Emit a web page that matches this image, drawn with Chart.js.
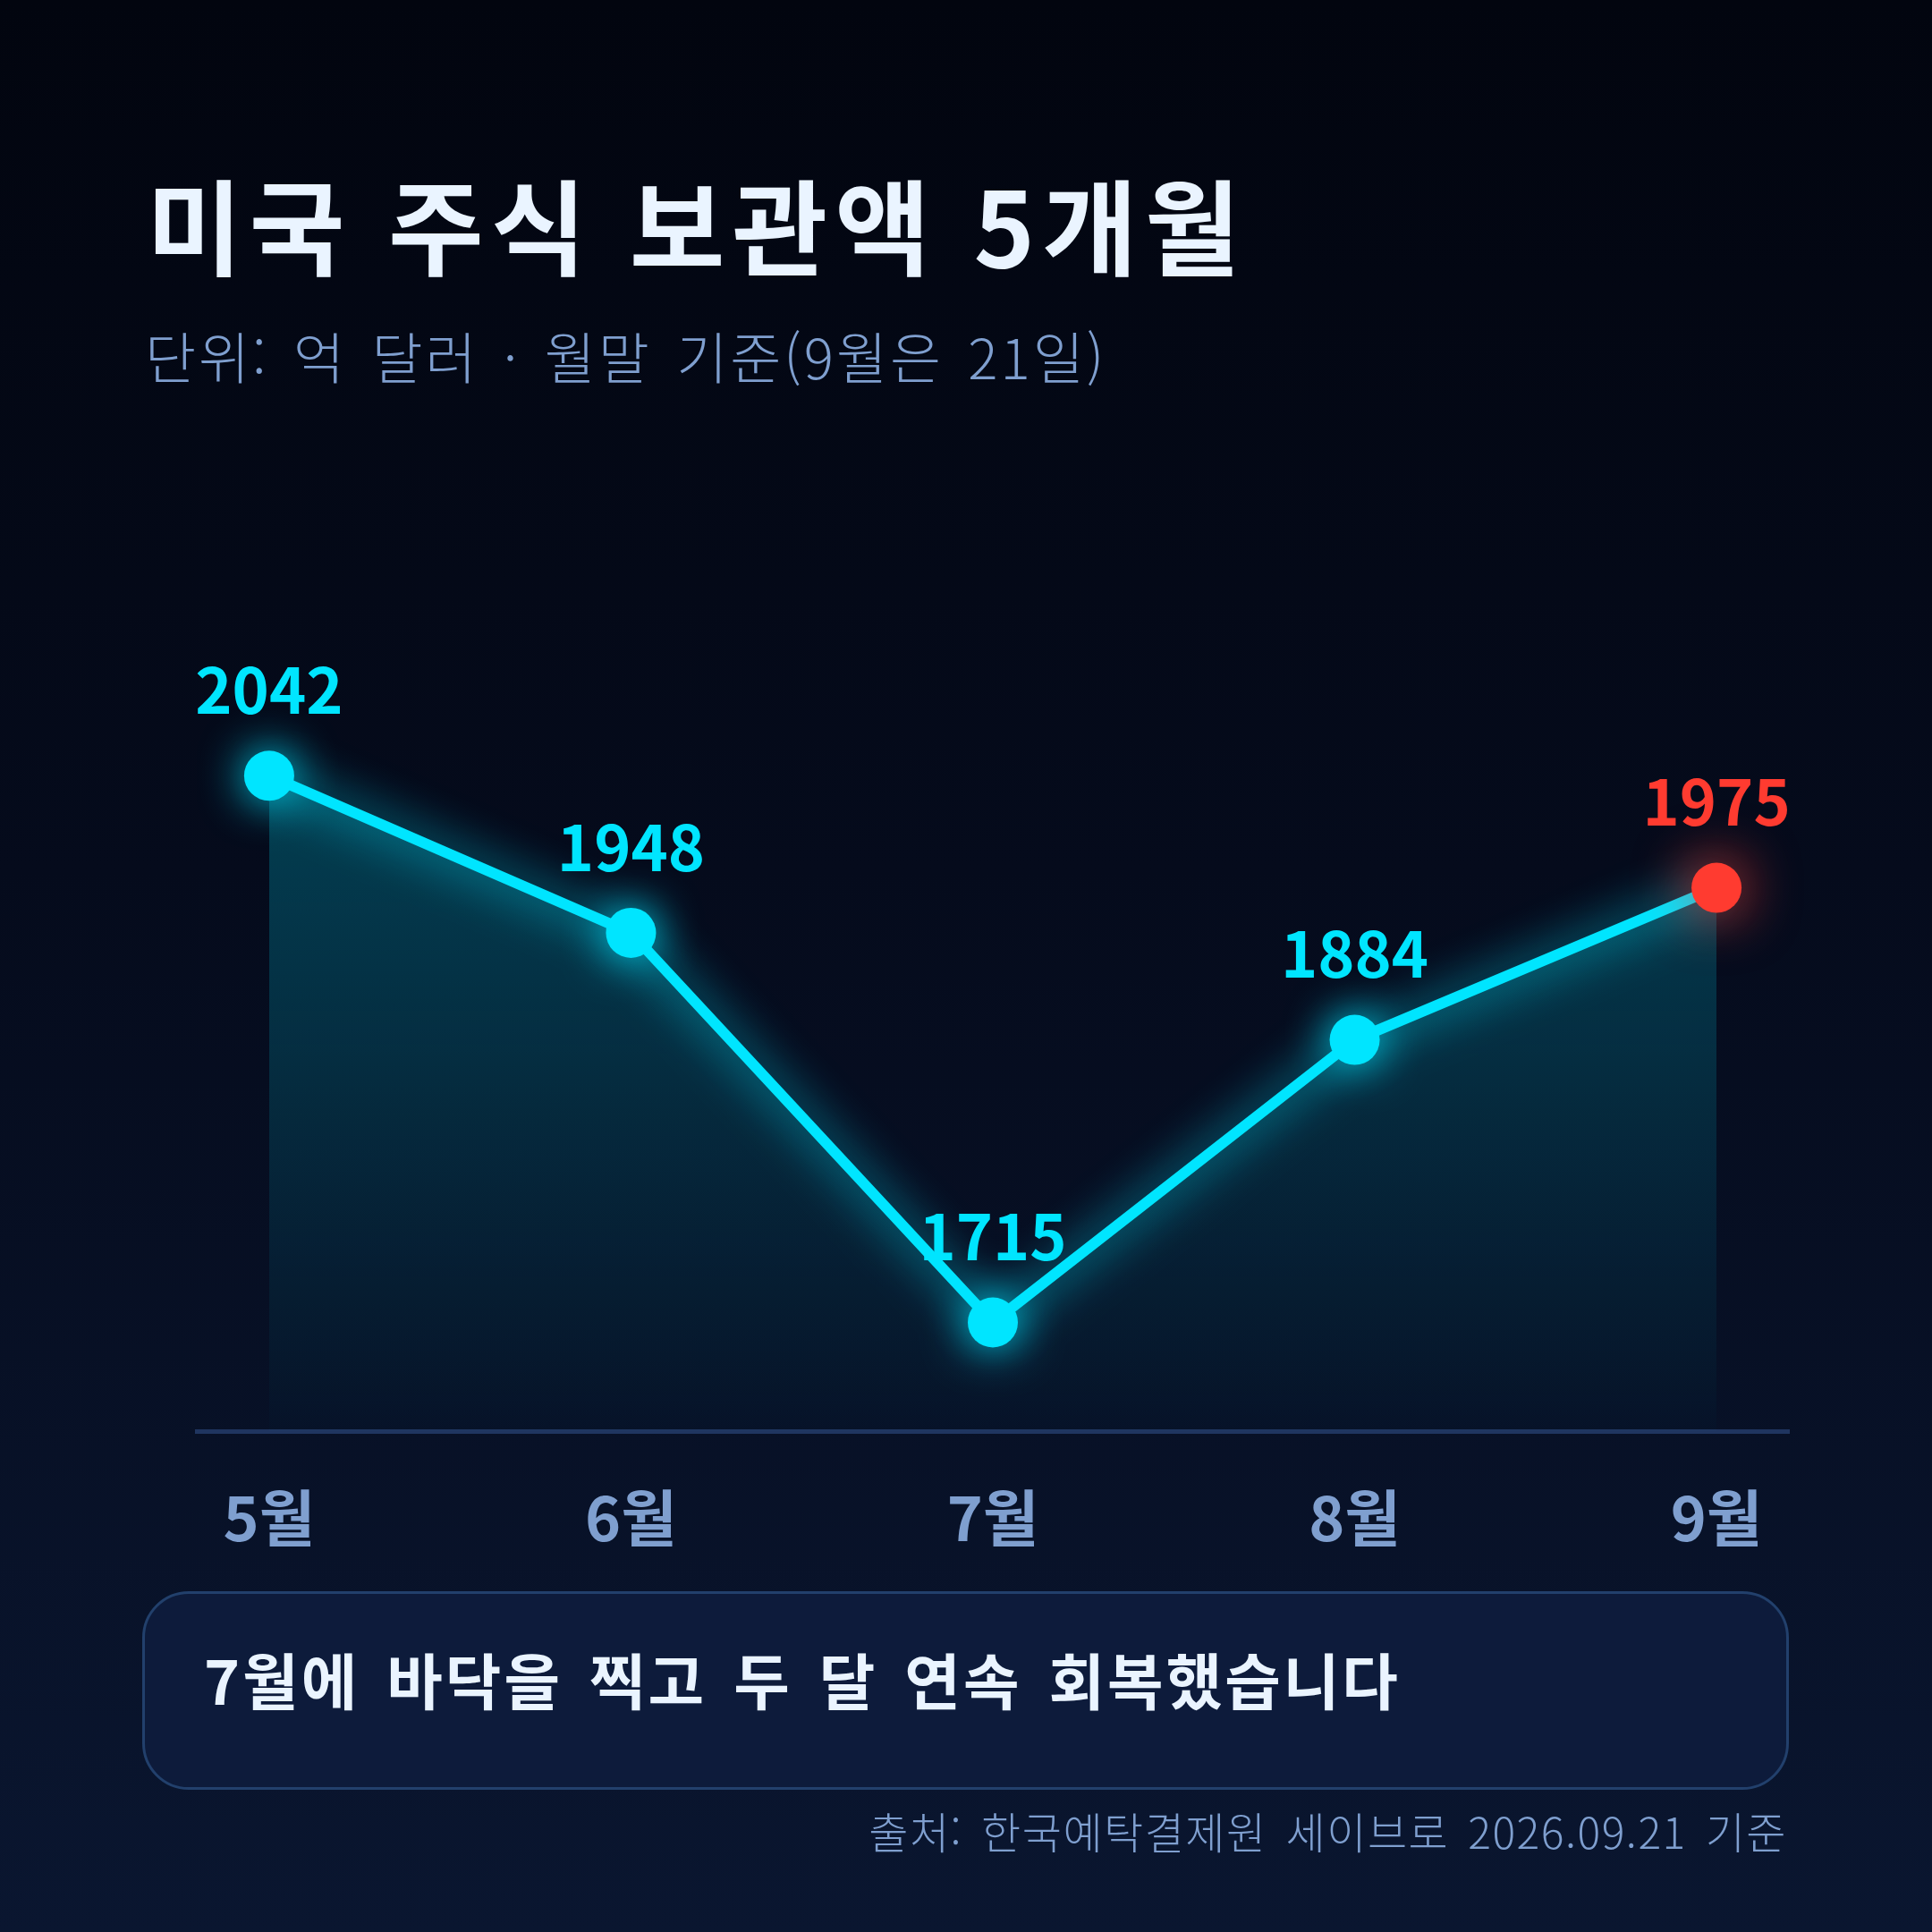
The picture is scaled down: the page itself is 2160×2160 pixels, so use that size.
<!DOCTYPE html>
<html lang="ko">
<head>
<meta charset="utf-8">
<title>미국 주식 보관액 5개월</title>
<script src="https://cdn.jsdelivr.net/npm/chart.js@4.4.1/dist/chart.umd.min.js"></script>
<style>
  html, body { margin: 0; padding: 0; }
  body {
    width: 2160px; height: 2160px; position: relative; overflow: hidden;
    background: linear-gradient(180deg, #02050f 0%, #050b1c 45%, #0a1630 100%);
    font-family: "Noto Sans CJK KR", "Noto Sans", sans-serif;
  }
  #chart { position: absolute; left: 0; top: 0; }
  .title {
    position: absolute; left: 164px; top: 190px; margin: 0;
    font-size: 116px; font-weight: 700; line-height: 1; color: #eaf4ff;
    letter-spacing: 8px;
  }
  .subtitle {
    position: absolute; left: 162px; top: 366px; margin: 0;
    font-size: 62px; font-weight: 300; line-height: 1; color: #7f9fcf;
    letter-spacing: 3px; word-spacing: 7px;
  }
  .note {
    position: absolute; left: 159px; top: 1779px; width: 1841px; height: 222px;
    box-sizing: border-box; border: 3px solid #22406c; border-radius: 52px;
    background: #0d1b3b; display: flex; align-items: center;
    padding: 0 0 26px 66px;
    font-size: 68px; font-weight: 700; color: #eaf4ff; line-height: 1;
    letter-spacing: 3px; word-spacing: 8px;
  }
  .source {
    position: absolute; right: 162px; top: 2022px;
    font-size: 48px; font-weight: 300; line-height: 1; color: #7f9fcf;
    letter-spacing: 1.5px; word-spacing: 6px;
  }
</style>
</head>
<body>
<canvas id="chart" width="2160" height="2160"></canvas>
<h1 class="title">미국 주식 보관액 5개월</h1>
<p class="subtitle">단위: 억 달러 · 월말 기준(9월은 21일)</p>
<div class="note">7월에 바닥을 찍고 두 달 연속 회복했습니다</div>
<div class="source">출처: 한국예탁결제원 세이브로 2026.09.21 기준</div>
<script>
// data (억 달러)
const months = ['5월', '6월', '7월', '8월', '9월'];
const holdings = [2042, 1948, 1715, 1884, 1975];
const yRange = [1650, 2185];

const CYAN = '#00e5ff';
const RED = '#ff3b30';

const points = holdings.map((v, i) => ({ x: i, y: v }));

// glow on the line dataset only
const glowPlugin = {
  id: 'glow',
  beforeDatasetDraw(chart, args) {
    if (args.index !== 1) return;
    const ctx = chart.ctx;
    ctx.save();
    ctx.shadowColor = 'rgba(0, 229, 255, 0.95)';
    ctx.shadowBlur = 50;
  },
  afterDatasetDraw(chart, args) {
    if (args.index !== 1) return;
    chart.ctx.restore();
  }
};

// last point in red + value labels above points
const labelPlugin = {
  id: 'valueLabels',
  afterDatasetsDraw(chart) {
    const ctx = chart.ctx;
    const meta = chart.getDatasetMeta(1);
    const last = holdings.length - 1;
    const p = meta.data[last];

    ctx.save();
    ctx.shadowColor = 'rgba(255, 59, 48, 1)';
    ctx.shadowBlur = 64;
    ctx.fillStyle = RED;
    ctx.beginPath();
    ctx.arc(p.x, p.y, 28, 0, Math.PI * 2);
    ctx.fill();
    ctx.restore();

    ctx.save();
    ctx.font = '700 70px "Noto Sans CJK KR", "Noto Sans", sans-serif';
    ctx.textAlign = 'center';
    ctx.textBaseline = 'middle';
    meta.data.forEach((el, i) => {
      ctx.fillStyle = i === last ? RED : CYAN;
      ctx.fillText(String(holdings[i]), el.x, el.y - 96);
    });
    ctx.restore();
  }
};

const canvas = document.getElementById('chart');

new Chart(canvas, {
  type: 'line',
  data: {
    datasets: [
      {
        data: points,
        borderWidth: 0,
        pointRadius: 0,
        fill: 'start',
        backgroundColor: (c) => {
          const area = c.chart.chartArea;
          if (!area) return 'rgba(0,229,255,0.15)';
          const g = c.chart.ctx.createLinearGradient(0, area.top, 0, area.bottom);
          g.addColorStop(0, 'rgba(0, 229, 255, 0.32)');
          g.addColorStop(0.55, 'rgba(0, 229, 255, 0.16)');
          g.addColorStop(1, 'rgba(0, 229, 255, 0.01)');
          return g;
        }
      },
      {
        data: points,
        borderColor: CYAN,
        borderWidth: 12,
        borderJoinStyle: 'round',
        tension: 0,
        fill: false,
        pointRadius: holdings.map((v, i) => (i === holdings.length - 1 ? 0 : 28)),
        pointBackgroundColor: CYAN,
        pointBorderWidth: 0
      }
    ]
  },
  options: {
    responsive: false,
    devicePixelRatio: 1,
    animation: false,
    layout: { padding: { left: 220, right: 160, top: 600, bottom: 0 } },
    plugins: {
      legend: { display: false },
      tooltip: { enabled: false }
    },
    scales: {
      x: {
        type: 'linear',
        min: -0.2,
        max: months.length - 1 + 0.2,
        afterBuildTicks: (axis) => {
          axis.ticks = months.map((m, i) => ({ value: i }));
        },
        grid: { display: false, drawTicks: false },
        border: { display: true, color: '#1f3560', width: 5 },
        ticks: {
          color: '#7f9fcf',
          padding: 56,
          maxRotation: 0,
          autoSkip: false,
          font: { family: '"Noto Sans CJK KR", "Noto Sans", sans-serif', size: 68, weight: '700' },
          callback: (v) => months[v] ?? ''
        },
        afterFit: (axis) => { axis.height = 560; }
      },
      y: {
        display: false,
        min: yRange[0],
        max: yRange[1]
      }
    }
  },
  plugins: [glowPlugin, labelPlugin]
});
</script>
</body>
</html>
